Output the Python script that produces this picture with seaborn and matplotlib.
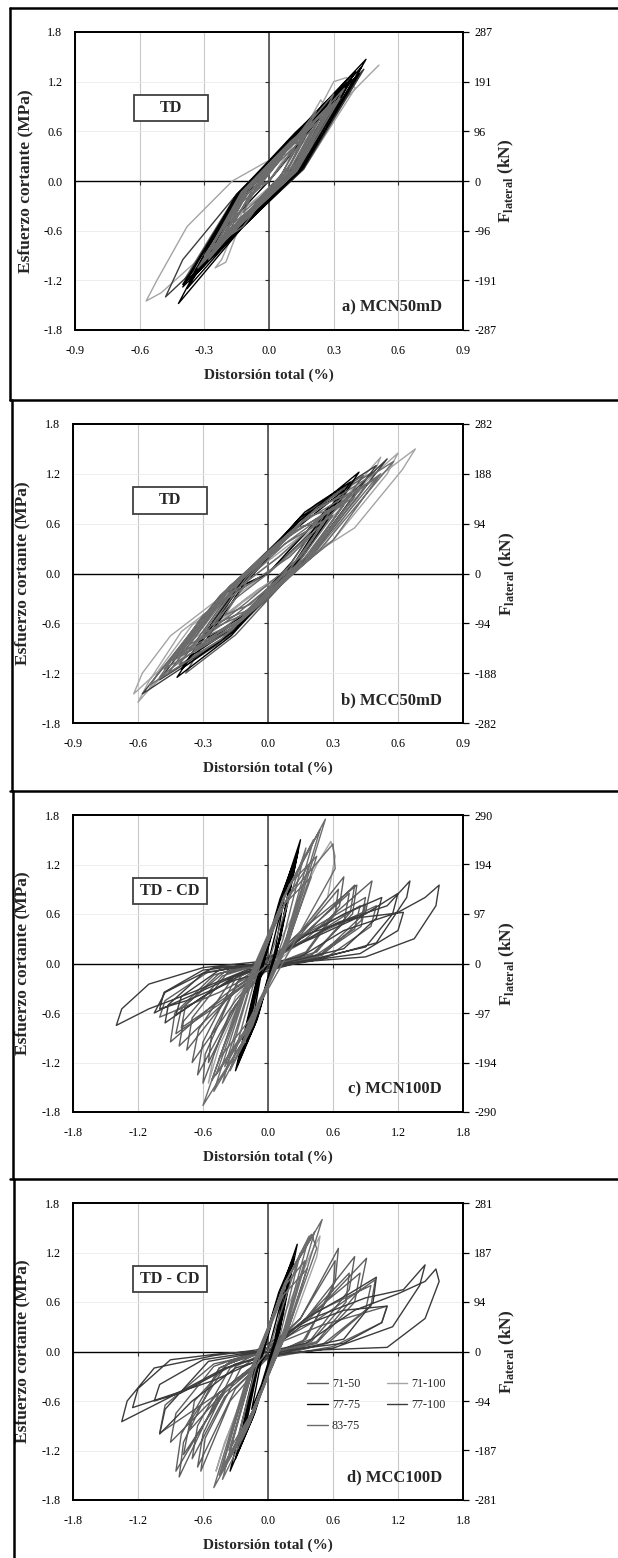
import matplotlib
matplotlib.use("Agg")
import matplotlib.pyplot as plt
from matplotlib.lines import Line2D
from matplotlib.patches import Rectangle
from matplotlib.ticker import FormatStrFormatter
import seaborn as sns

# ---------------- data (drift %, shear stress MPa), loop vertices ----------------
SERIES = ['71-50', '71-100', '77-75', '77-100', '83-75']

# a) MCN50mD
A_7775_X = [0.00,
            0.24, 0.10, -0.08, -0.24, -0.10, 0.08,
            0.31, 0.13, -0.10, -0.30, -0.13, 0.10,
            0.36, 0.14, -0.11, -0.34, -0.14, 0.11,
            0.40, 0.15, -0.12, -0.40, -0.15, 0.12,
            0.45, 0.16, -0.13, -0.42, -0.16, 0.12,
            0.38, 0.14, -0.12, -0.37, -0.14, 0.11,
            0.42, 0.15, -0.12, -0.40, -0.15, 0.12,
            0.34, 0.13, -0.11, -0.36, -0.14, 0.05,
            0.43, 0.20, -0.15, -0.38, -0.20, 0.00]
A_7775_Y = [0.00,
            0.78, 0.12, -0.40, -0.80, -0.14, 0.42,
            1.02, 0.14, -0.48, -1.00, -0.16, 0.50,
            1.18, 0.14, -0.52, -1.12, -0.18, 0.54,
            1.32, 0.15, -0.55, -1.28, -0.20, 0.56,
            1.47, 0.16, -0.58, -1.48, -0.20, 0.58,
            1.22, 0.12, -0.50, -1.22, -0.16, 0.52,
            1.30, 0.14, -0.54, -1.25, -0.18, 0.55,
            1.10, 0.12, -0.50, -1.18, -0.18, 0.30,
            1.38, 0.40, -0.62, -1.30, -0.55, 0.00]
A_7150_X = [0.00,
            0.18, 0.08, -0.07, -0.18, -0.08, 0.06,
            0.27, 0.11, -0.09, -0.27, -0.11, 0.09,
            0.33, 0.13, -0.10, -0.33, -0.13, 0.10,
            0.42, 0.15, -0.12, -0.39, -0.15, 0.11,
            0.40, 0.15, -0.11, -0.36, -0.14, 0.12,
            0.30, 0.12, -0.10, -0.31, -0.12, 0.00]
A_7150_Y = [0.00,
            0.58, 0.10, -0.32, -0.58, -0.12, 0.34,
            0.86, 0.12, -0.42, -0.88, -0.14, 0.44,
            1.08, 0.12, -0.48, -1.06, -0.16, 0.50,
            1.30, 0.12, -0.54, -1.18, -0.16, 0.54,
            1.25, 0.14, -0.52, -1.15, -0.18, 0.52,
            0.98, 0.12, -0.46, -1.00, -0.14, 0.00]
A_8375_X = [0.00,
            0.12, 0.06, -0.05, -0.12, -0.06, 0.05,
            0.20, 0.09, -0.07, -0.20, -0.09, 0.07,
            0.26, 0.11, -0.09, -0.25, -0.11, 0.09,
            0.30, 0.12, -0.10, -0.29, -0.12, 0.10,
            0.33, 0.13, -0.11, -0.31, -0.13, 0.10,
            0.28, 0.12, -0.10, -0.28, -0.12, 0.09,
            0.22, 0.10, -0.08, -0.22, -0.10, 0.08,
            0.25, 0.11, -0.09, -0.26, -0.11, 0.09,
            0.16, 0.07, -0.06, -0.16, -0.07, 0.00,
            0.18, 0.05, -0.12, -0.24, -0.05, 0.12,
            0.30, 0.18, -0.02, -0.28, -0.16, 0.02,
            0.22, 0.10, -0.10, -0.30, -0.14, 0.06,
            0.35, 0.15, -0.12, -0.33, -0.15, 0.00]
A_8375_Y = [0.00,
            0.40, 0.08, -0.22, -0.38, -0.08, 0.24,
            0.62, 0.10, -0.32, -0.62, -0.10, 0.34,
            0.80, 0.10, -0.40, -0.78, -0.12, 0.42,
            0.94, 0.10, -0.44, -0.92, -0.12, 0.46,
            1.00, 0.12, -0.46, -0.98, -0.14, 0.48,
            0.88, 0.12, -0.42, -0.86, -0.12, 0.44,
            0.70, 0.10, -0.36, -0.70, -0.10, 0.38,
            0.82, 0.12, -0.40, -0.84, -0.12, 0.42,
            0.50, 0.08, -0.28, -0.50, -0.08, 0.00,
            0.62, 0.05, -0.55, -0.76, -0.05, 0.50,
            1.05, 0.35, -0.15, -0.95, -0.45, 0.15,
            0.85, 0.20, -0.38, -0.90, -0.28, 0.30,
            1.12, 0.25, -0.50, -1.05, -0.30, 0.00]
A_71100_X = [0.00, 0.18, 0.24, 0.26, 0.10, -0.12, -0.22, -0.25, -0.20, -0.08, 0.00,
             0.10, 0.22, 0.30, 0.36, 0.40, 0.16, -0.10, -0.35, -0.50, -0.57,
             -0.52, -0.38, -0.17, 0.00, 0.12, 0.30, 0.51]
A_71100_Y = [0.00, 0.70, 0.98, 0.90, 0.15, -0.35, -0.95, -1.05, -0.98, -0.15, 0.00,
             0.30, 0.80, 1.20, 1.25, 1.12, 0.14, -0.30, -1.00, -1.35, -1.45,
             -1.20, -0.55, 0.00, 0.25, 0.36, 0.85, 1.40]
A_77100_X = [0.00,
             0.28, 0.12, -0.10, -0.30, -0.12, 0.10,
             0.37, 0.14, -0.12, -0.48, -0.40, -0.15, 0.11,
             0.42, 0.15, -0.12, -0.38, -0.15, 0.12,
             0.44, 0.16, -0.12, -0.33, -0.13, 0.00]
A_77100_Y = [0.00,
             0.92, 0.12, -0.44, -1.00, -0.14, 0.46,
             1.18, 0.12, -0.52, -1.40, -0.95, -0.16, 0.52,
             1.28, 0.14, -0.54, -1.20, -0.16, 0.54,
             1.35, 0.14, -0.54, -1.10, -0.14, 0.00]

# b) MCC50mD
B_8375_X = [0.00,
            0.20, 0.08, -0.08, -0.20, -0.08, 0.08,
            0.30, 0.12, -0.12, -0.30, -0.12, 0.12,
            0.40, 0.16, -0.16, -0.40, -0.16, 0.16,
            0.50, 0.20, -0.19, -0.48, -0.19, 0.20,
            0.58, 0.23, -0.22, -0.55, -0.22, 0.23,
            0.45, 0.18, -0.18, -0.44, -0.18, 0.18,
            0.35, 0.14, -0.14, -0.36, -0.14, 0.14,
            0.26, 0.10, -0.10, -0.26, -0.10, 0.10,
            0.42, 0.17, -0.17, -0.42, -0.17, 0.10,
            0.52, 0.30, -0.10, -0.50, -0.30, 0.10,
            0.38, 0.20, -0.15, -0.45, -0.25, 0.05,
            0.30, 0.15, -0.10, -0.32, -0.15, 0.00]
B_8375_Y = [0.00,
            0.48, 0.02, -0.37, -0.50, -0.03, 0.36,
            0.70, 0.06, -0.50, -0.72, -0.07, 0.50,
            0.92, 0.12, -0.62, -0.95, -0.13, 0.62,
            1.15, 0.20, -0.72, -1.15, -0.20, 0.72,
            1.35, 0.26, -0.80, -1.35, -0.26, 0.80,
            1.05, 0.16, -0.68, -1.05, -0.16, 0.68,
            0.82, 0.09, -0.58, -0.85, -0.10, 0.56,
            0.62, 0.05, -0.45, -0.62, -0.05, 0.45,
            1.00, 0.14, -0.66, -1.00, -0.14, 0.40,
            1.20, 0.40, -0.45, -1.25, -0.50, 0.20,
            0.95, 0.25, -0.50, -1.05, -0.40, 0.20,
            0.80, 0.20, -0.35, -0.80, -0.30, 0.00]
B_71100_X = [0.00, 0.25, 0.45, 0.60, 0.55, 0.30, -0.10, -0.40, -0.60, -0.55, -0.40, 0.05,
             0.40, 0.68, 0.62, 0.40, -0.05, -0.35, -0.62, -0.58, -0.45, 0.00,
             0.30, 0.52, 0.48, 0.25, -0.12, -0.35, -0.55, -0.50, -0.35, 0.00]
B_71100_Y = [0.00, 0.55, 1.10, 1.45, 1.20, 0.40, -0.30, -0.95, -1.55, -1.30, -0.70, 0.20,
             0.95, 1.50, 1.25, 0.55, -0.20, -0.80, -1.45, -1.20, -0.75, 0.15,
             0.75, 1.40, 1.15, 0.30, -0.35, -0.90, -1.40, -1.15, -0.62, 0.00]
B_7775_X = [0.00,
            0.28, 0.11, -0.11, -0.28, -0.11, 0.11,
            0.35, 0.14, -0.14, -0.36, -0.14, 0.14,
            0.42, 0.17, -0.17, -0.42, -0.17, 0.17,
            0.38, 0.15, -0.16, -0.40, -0.16, 0.15,
            0.32, 0.13, -0.13, -0.33, -0.13, 0.00]
B_7775_Y = [0.00,
            0.80, 0.14, -0.50, -0.78, -0.13, 0.50,
            1.00, 0.18, -0.62, -1.00, -0.18, 0.62,
            1.22, 0.24, -0.75, -1.25, -0.25, 0.74,
            1.10, 0.20, -0.70, -1.15, -0.22, 0.68,
            0.92, 0.16, -0.56, -0.90, -0.16, 0.00]
B_7150_X = [0.00,
            0.32, 0.13, -0.13, -0.33, -0.13, 0.13,
            0.40, 0.16, -0.16, -0.41, -0.16, 0.16,
            0.47, 0.19, -0.18, -0.46, -0.18, 0.19,
            0.44, 0.18, -0.15, -0.38, -0.15, 0.00]
B_7150_Y = [0.00,
            0.90, 0.14, -0.60, -0.92, -0.14, 0.60,
            1.12, 0.20, -0.70, -1.10, -0.18, 0.70,
            1.20, 0.20, -0.76, -1.20, -0.20, 0.76,
            1.18, 0.20, -0.74, -1.20, -0.22, 0.00]
B_77100_X = [0.00, 0.55, 0.22, -0.23, -0.58, -0.23, 0.22, 0.50, 0.20, -0.20, -0.50, -0.20, 0.00]
B_77100_Y = [0.00, 1.38, 0.28, -0.85, -1.45, -0.30, 0.83, 1.30, 0.25, -0.78, -1.28, -0.24, 0.00]

# c) MCN100D
C_7775_X = [0.00,
            0.15, 0.06, -0.05, -0.14, -0.06, 0.05,
            0.22, 0.09, -0.08, -0.20, -0.08, 0.08,
            0.28, 0.11, -0.10, -0.26, -0.10, 0.10,
            0.30, 0.12, -0.12, -0.30, -0.12, 0.11,
            0.26, 0.10, -0.11, -0.28, -0.11, 0.10,
            0.24, 0.10, -0.09, -0.24, -0.09, 0.00]
C_7775_Y = [0.00,
            0.80, 0.12, -0.40, -0.70, -0.10, 0.42,
            1.10, 0.20, -0.55, -0.95, -0.18, 0.58,
            1.38, 0.30, -0.68, -1.15, -0.26, 0.70,
            1.50, 0.34, -0.74, -1.30, -0.28, 0.78,
            1.30, 0.28, -0.70, -1.22, -0.26, 0.66,
            1.20, 0.24, -0.62, -1.08, -0.22, 0.00]
C_8375_X = [0.00,
            0.35, 0.14, -0.14, -0.35, -0.14, 0.14,
            0.42, 0.17, -0.17, -0.42, -0.17, 0.17,
            0.48, 0.19, -0.20, -0.50, -0.20, 0.19,
            0.53, 0.21, -0.24, -0.60, -0.24, 0.21,
            0.45, 0.18, -0.19, -0.48, -0.19, 0.18,
            0.60, 0.62, 0.22, -0.21, -0.52, -0.21, 0.20,
            0.38, 0.15, -0.16, -0.40, -0.16, 0.15,
            0.40, 0.16, -0.18, -0.45, -0.18, 0.00]
C_8375_Y = [0.00,
            1.40, 0.30, -0.75, -1.30, -0.28, 0.80,
            1.50, 0.32, -0.82, -1.45, -0.30, 0.86,
            1.62, 0.34, -0.88, -1.55, -0.32, 0.92,
            1.75, 0.38, -0.96, -1.72, -0.36, 0.98,
            1.30, 0.22, -0.80, -1.35, -0.26, 0.80,
            1.45, 1.15, 0.20, -0.80, -1.42, -0.28, 0.85,
            1.20, 0.22, -0.72, -1.25, -0.24, 0.72,
            1.05, 0.18, -0.70, -1.15, -0.22, 0.00]
C_77100_X = [0.00,
             0.30, 0.70, 1.20, 1.45, 1.58, 1.55, 1.35, 0.90, 0.30, -0.20, -0.70, -1.10, -1.40,
             -1.35, -1.10, -0.60, -0.10,
             0.40, 0.90, 1.20, 1.15, 0.90, 0.40, -0.20, -0.60, -0.95, -0.92, -0.60, -0.10,
             0.30, 0.65, 1.10, 1.31, 1.28, 1.00, 0.40, -0.25, -0.90, -1.05, -0.95, -0.50, 0.00,
             0.30, 0.70, 1.05, 1.00, 0.70, 0.20, -0.30, -0.85, -0.80, -0.45, 0.00,
             0.35, 0.80, 1.25, 1.20, 0.85, 0.30, -0.30, -0.75, -1.00, -0.96, -0.60, -0.05]
C_77100_Y = [0.00,
             0.08, 0.40, 0.62, 0.80, 0.95, 0.70, 0.30, 0.08, 0.02, -0.08, -0.35, -0.55, -0.75,
             -0.55, -0.25, -0.05, 0.02,
             0.30, 0.60, 0.85, 0.60, 0.20, 0.05, -0.10, -0.40, -0.72, -0.50, -0.12, 0.00,
             0.25, 0.50, 0.70, 1.00, 0.80, 0.25, 0.03, -0.12, -0.50, -0.60, -0.35, -0.05, 0.00,
             0.30, 0.60, 0.80, 0.55, 0.18, 0.02, -0.15, -0.62, -0.40, -0.08, 0.00,
             0.35, 0.55, 0.62, 0.40, 0.12, 0.02, -0.20, -0.45, -0.55, -0.35, -0.08, 0.00]
C_7150_X = [0.00,
            0.30, 0.80, 0.76, 0.45, 0.00, -0.30, -0.75, -0.70, -0.38, 0.00,
            0.35, 0.96, 0.90, 0.50, -0.05, -0.40, -0.90, -0.86, -0.50, 0.00,
            0.28, 0.70, 0.66, 0.35, -0.05, -0.30, -0.70, -0.64, -0.32, 0.05,
            0.40, 0.85, 0.80, 0.42, -0.05, -0.35, -0.60, -0.58, -0.28, 0.02,
            0.35, 0.75, 0.70, 0.40, 0.00, -0.35, -0.82, -0.78, -0.42, 0.00,
            0.45, 1.00, 0.95, 0.55, 0.00, -0.45, -1.00, -0.95, -0.55, 0.00,
            0.40, 0.90, 0.86, 0.50, -0.02, -0.40, -0.85, -0.80, -0.45, 0.00,
            0.30, 0.65, 0.62, 0.35, 0.00, -0.25, -0.55, -0.52, -0.25, 0.00,
            0.35, 0.82, 0.78, 0.40, 0.00, -0.30, -0.65, -0.60, -0.30, 0.00,
            0.40, 0.90, 0.86, 0.45, 0.00, -0.40, -0.80, -0.76, -0.40, 0.00]
C_7150_Y = [0.00,
            0.30, 0.95, 0.62, 0.14, -0.03, -0.30, -1.05, -0.66, -0.12, 0.04,
            0.30, 1.00, 0.62, 0.12, -0.06, -0.38, -0.95, -0.60, -0.14, 0.04,
            0.35, 1.05, 0.70, 0.14, -0.06, -0.45, -1.20, -0.80, -0.16, 0.08,
            0.32, 0.70, 0.42, 0.08, -0.08, -0.60, -1.45, -1.10, -0.22, 0.04,
            0.38, 0.85, 0.50, 0.10, -0.05, -0.40, -1.00, -0.70, -0.15, 0.02,
            0.35, 0.70, 0.45, 0.08, -0.04, -0.35, -0.65, -0.45, -0.10, 0.00,
            0.42, 0.80, 0.52, 0.10, -0.05, -0.45, -0.85, -0.55, -0.12, 0.00,
            0.35, 0.90, 0.60, 0.12, -0.04, -0.40, -1.20, -0.85, -0.15, 0.02,
            0.45, 0.95, 0.60, 0.10, -0.05, -0.50, -1.35, -0.95, -0.18, 0.00,
            0.40, 0.72, 0.45, 0.08, -0.05, -0.42, -0.78, -0.50, -0.10, 0.00]
C_71100_X = [0.00, 0.20, 0.45, 0.58, 0.62, 0.55, 0.20, -0.20, -0.45, -0.55, -0.50, -0.30, 0.00]
C_71100_Y = [0.00, 0.50, 1.20, 1.48, 1.30, 0.80, 0.15, -0.30, -1.00, -1.45, -1.10, -0.40, 0.00]

# d) MCC100D
D_7775_X = [0.00,
            0.15, 0.06, -0.06, -0.15, -0.06, 0.05,
            0.22, 0.09, -0.09, -0.22, -0.09, 0.08,
            0.27, 0.11, -0.12, -0.30, -0.12, 0.10,
            0.24, 0.10, -0.14, -0.35, -0.13, 0.09,
            0.20, 0.08, -0.10, -0.26, -0.10, 0.00]
D_7775_Y = [0.00,
            0.75, 0.12, -0.40, -0.70, -0.10, 0.42,
            1.05, 0.20, -0.58, -1.00, -0.18, 0.58,
            1.30, 0.26, -0.74, -1.30, -0.26, 0.72,
            1.15, 0.22, -0.80, -1.45, -0.26, 0.64,
            0.98, 0.18, -0.64, -1.15, -0.20, 0.00]
D_8375_X = [0.00,
            0.30, 0.12, -0.12, -0.30, -0.12, 0.12,
            0.38, 0.15, -0.15, -0.38, -0.15, 0.15,
            0.43, 0.17, -0.17, -0.42, -0.17, 0.17,
            0.50, 0.20, -0.20, -0.50, -0.20, 0.20,
            0.40, 0.45, 0.17, -0.18, -0.45, -0.18, 0.17,
            0.34, 0.14, -0.14, -0.36, -0.14, 0.14,
            0.36, 0.15, -0.17, -0.42, -0.17, 0.00]
D_8375_Y = [0.00,
            1.20, 0.24, -0.70, -1.15, -0.24, 0.72,
            1.40, 0.28, -0.80, -1.35, -0.26, 0.82,
            1.45, 0.28, -0.88, -1.55, -0.30, 0.86,
            1.60, 0.32, -0.94, -1.65, -0.34, 0.94,
            1.42, 1.25, 0.22, -0.84, -1.50, -0.30, 0.82,
            1.10, 0.20, -0.72, -1.20, -0.22, 0.68,
            1.00, 0.16, -0.80, -1.40, -0.26, 0.00]
D_77100_X = [0.00,
             0.35, 0.80, 1.20, 1.45, 1.55, 1.58, 1.45, 1.10, 0.50, 0.00, -0.40, -0.90, -1.20, -1.35,
             -1.30, -1.05, -0.50, -0.10,
             0.40, 0.90, 1.25, 1.45, 1.40, 1.15, 0.60, 0.00, -0.50, -0.95, -1.25, -1.20, -0.90, -0.40, 0.00,
             0.30, 0.70, 1.10, 1.05, 0.70, 0.20, -0.30, -0.80, -1.05, -1.00, -0.60, -0.10, 0.00,
             0.35, 0.75, 1.00, 0.97, 0.70, 0.25, -0.30, -0.70, -1.00, -0.95, -0.55, -0.05]
D_77100_Y = [0.00,
             0.10, 0.50, 0.70, 0.85, 1.00, 0.85, 0.40, 0.05, 0.02, -0.05, -0.20, -0.55, -0.75, -0.85,
             -0.60, -0.20, -0.05, 0.02,
             0.40, 0.65, 0.75, 1.05, 0.80, 0.30, 0.04, -0.05, -0.35, -0.55, -0.68, -0.45, -0.10, -0.02, 0.00,
             0.30, 0.50, 0.55, 0.35, 0.10, 0.02, -0.15, -0.50, -0.60, -0.40, -0.10, 0.00, 0.00,
             0.40, 0.70, 0.90, 0.60, 0.15, 0.02, -0.20, -0.60, -1.00, -0.70, -0.12, 0.00]
D_7150_X = [0.00,
            0.35, 0.80, 0.75, 0.40, 0.00, -0.40, -0.85, -0.80, -0.45, 0.00,
            0.40, 0.91, 0.85, 0.45, -0.05, -0.45, -0.82, -0.78, -0.45, 0.00,
            0.45, 0.99, 0.95, 0.55, 0.00, -0.45, -0.90, -0.85, -0.50, 0.00,
            0.50, 1.10, 1.05, 0.60, 0.00, -0.40, -0.70, -0.65, -0.35, 0.00,
            0.30, 0.65, 0.62, 0.35, 0.00, -0.35, -0.62, -0.58, -0.25, 0.00,
            0.35, 0.75, 0.72, 0.40, -0.02, -0.45, -1.00, -0.95, -0.50, 0.00,
            0.30, 0.62, 0.60, 0.32, 0.00, -0.30, -0.65, -0.60, -0.30, 0.00,
            0.35, 0.85, 0.80, 0.45, 0.00, -0.40, -0.78, -0.72, -0.38, 0.00,
            0.40, 0.95, 0.90, 0.50, 0.00, -0.35, -0.72, -0.68, -0.35, 0.00]
D_7150_Y = [0.00,
            0.40, 1.15, 0.75, 0.15, -0.05, -0.45, -1.45, -1.00, -0.20, 0.05,
            0.42, 1.13, 0.75, 0.12, -0.08, -0.50, -1.52, -1.10, -0.20, 0.05,
            0.38, 0.87, 0.55, 0.10, -0.08, -0.50, -1.10, -0.75, -0.18, 0.05,
            0.32, 0.55, 0.35, 0.06, -0.08, -0.55, -1.30, -0.90, -0.20, 0.05,
            0.40, 1.25, 0.85, 0.15, -0.06, -0.60, -1.45, -1.05, -0.20, 0.04,
            0.40, 0.95, 0.60, 0.12, -0.06, -0.50, -0.99, -0.65, -0.15, 0.00,
            0.40, 1.10, 0.75, 0.12, -0.05, -0.45, -1.40, -1.00, -0.18, 0.00,
            0.40, 0.95, 0.60, 0.10, -0.05, -0.50, -1.25, -0.85, -0.15, 0.00,
            0.45, 0.80, 0.50, 0.08, -0.05, -0.40, -0.95, -0.60, -0.12, 0.00]
D_71100_X = [0.00, 0.20, 0.40, 0.48, 0.45, 0.20, -0.15, -0.40, -0.48, -0.42, -0.20, 0.00]
D_71100_Y = [0.00, 0.60, 1.20, 1.40, 1.15, 0.25, -0.30, -1.10, -1.45, -1.20, -0.40, 0.00]

# axis ticks
Y_TICKS = [-1.8, -1.2, -0.6, 0.0, 0.6, 1.2, 1.8]
X_TICKS_SMALL = [-0.9, -0.6, -0.3, 0.0, 0.3, 0.6, 0.9]
X_TICKS_BIG = [-1.8, -1.2, -0.6, 0.0, 0.6, 1.2, 1.8]
KN_A = [-287, -191, -96, 0, 96, 191, 287]
KN_B = [-282, -188, -94, 0, 94, 188, 282]
KN_C = [-290, -194, -97, 0, 97, 194, 290]
KN_D = [-281, -187, -94, 0, 94, 187, 281]

COLORS = {'71-50': '#5e5e5e', '71-100': '#a4a4a4', '77-75': '#000000',
          '77-100': '#3c3c3c', '83-75': '#6c6c6c'}
DRAW_ORDER = ['71-100', '71-50', '77-100', '77-75', '83-75']

PANELS = [
    dict(curves={'71-50': (A_7150_X, A_7150_Y), '71-100': (A_71100_X, A_71100_Y),
                 '77-75': (A_7775_X, A_7775_Y), '77-100': (A_77100_X, A_77100_Y),
                 '83-75': (A_8375_X, A_8375_Y)},
         xticks=X_TICKS_SMALL, kn=KN_A, tag='TD', name='a) MCN50mD', px=(75, 32, 330)),
    dict(curves={'71-50': (B_7150_X, B_7150_Y), '71-100': (B_71100_X, B_71100_Y),
                 '77-75': (B_7775_X, B_7775_Y), '77-100': (B_77100_X, B_77100_Y),
                 '83-75': (B_8375_X, B_8375_Y)},
         xticks=X_TICKS_SMALL, kn=KN_B, tag='TD', name='b) MCC50mD', px=(73, 424, 723)),
    dict(curves={'71-50': (C_7150_X, C_7150_Y), '71-100': (C_71100_X, C_71100_Y),
                 '77-75': (C_7775_X, C_7775_Y), '77-100': (C_77100_X, C_77100_Y),
                 '83-75': (C_8375_X, C_8375_Y)},
         xticks=X_TICKS_BIG, kn=KN_C, tag='TD - CD', name='c) MCN100D', px=(73, 815, 1112)),
    dict(curves={'71-50': (D_7150_X, D_7150_Y), '71-100': (D_71100_X, D_71100_Y),
                 '77-75': (D_7775_X, D_7775_Y), '77-100': (D_77100_X, D_77100_Y),
                 '83-75': (D_8375_X, D_8375_Y)},
         xticks=X_TICKS_BIG, kn=KN_D, tag='TD - CD', name='d) MCC100D', px=(73, 1203, 1500)),
]

W, H = 618, 1558
RIGHT = 463

sns.set_theme(style='ticks')
plt.rcParams['font.family'] = ['Liberation Serif', 'DejaVu Serif']
plt.rcParams['axes.unicode_minus'] = False
plt.rcParams['mathtext.fontset'] = 'custom'
plt.rcParams['mathtext.rm'] = 'Liberation Serif'
plt.rcParams['mathtext.bf'] = 'Liberation Serif:bold'

fig = plt.figure(figsize=(W / 100, H / 100), dpi=100)

# outer frames of the four sub-figures
for y in [8, 400, 791, 1179]:
    fig.add_artist(Line2D([10 / W, 1], [1 - y / H, 1 - y / H], transform=fig.transFigure,
                          color='black', lw=1.8))
for x, y0, y1 in [(10, 8, 400), (12, 400, 791), (13, 791, 1179), (14, 1179, 1558)]:
    fig.add_artist(Line2D([x / W, x / W], [1 - y0 / H, 1 - y1 / H], transform=fig.transFigure,
                          color='black', lw=1.8))

for i, p in enumerate(PANELS):
    left, top, bottom = p['px']
    rect = [left / W, 1 - bottom / H, (RIGHT - left) / W, (bottom - top) / H]
    ax = fig.add_axes(rect)
    xmax = p['xticks'][-1]

    ax.grid(axis='x', color='#c8c8c8', lw=0.8)
    ax.grid(axis='y', color='#ebebeb', lw=0.6)
    ax.set_axisbelow(True)
    ax.axhline(0, color='black', lw=1.0, zorder=1.5)
    ax.axvline(0, color='#555555', lw=1.3, zorder=1.5)

    for key in DRAW_ORDER:
        xs, ys = p['curves'][key]
        sns.lineplot(x=xs, y=ys, sort=False, estimator=None, color=COLORS[key],
                     linewidth=1.0, ax=ax, label=key if i == 3 else None)

    ax.set_xlim(-xmax, xmax)
    ax.set_ylim(-1.8, 1.8)
    ax.set_xticks(p['xticks'])
    ax.set_yticks(Y_TICKS)
    ax.xaxis.set_major_formatter(FormatStrFormatter('%.1f'))
    ax.yaxis.set_major_formatter(FormatStrFormatter('%.1f'))
    ax.tick_params(axis='both', length=0, labelsize=8.7, colors='black')
    ax.tick_params(axis='x', pad=11)
    ax.tick_params(axis='y', pad=9)
    for s in ax.spines.values():
        s.set_visible(True)
        s.set_color('black')
        s.set_linewidth(1.3)

    ax.set_xlabel('Distorsión total (%)', fontsize=11, fontweight='bold')
    ax.set_ylabel('Esfuerzo cortante (MPa)', fontsize=12.5, fontweight='bold')
    ax.xaxis.set_label_coords(0.5, -0.128)
    ax.yaxis.set_label_coords(-0.108, 0.5)

    # label box and specimen name
    ax.add_patch(Rectangle((0.153, 0.70), 0.19, 0.089, transform=ax.transAxes,
                           facecolor='white', edgecolor='#404040', lw=1.3, zorder=6))
    ax.text(0.248, 0.7445, p['tag'], transform=ax.transAxes, ha='center', va='center',
            fontsize=11.7, fontweight='bold', zorder=7)
    ax.text(0.946, 0.075, p['name'], transform=ax.transAxes, ha='right', va='center',
            fontsize=12, fontweight='bold', zorder=7)

    # tick marks on the axes crossing at zero
    ov = fig.add_axes(rect, sharex=ax, sharey=ax)
    ov.patch.set_visible(False)
    ov.grid(False)
    ov.spines['top'].set_visible(False)
    ov.spines['right'].set_visible(False)
    ov.spines['left'].set_position(('data', 0))
    ov.spines['bottom'].set_position(('data', 0))
    ov.spines['left'].set_color('none')
    ov.spines['bottom'].set_color('none')
    ov.tick_params(labelleft=False, labelbottom=False, left=True, bottom=True,
                   length=3, width=0.8, direction='out', color='#333333')

    # lateral force axis
    tw = ax.twinx()
    tw.set_ylim(p['kn'][0], p['kn'][-1])
    tw.set_yticks(p['kn'])
    tw.yaxis.set_major_formatter(FormatStrFormatter('%d'))
    tw.tick_params(axis='y', right=True, length=4, width=0.9, direction='out',
                   labelsize=8.7, pad=4, colors='black')
    tw.grid(False)
    for s in tw.spines.values():
        s.set_color('black')
        s.set_linewidth(1.3)
    tw.set_ylabel(r'$\mathbf{F}_{\mathbf{lateral}}$ (kN)', fontsize=12.5, fontweight='bold')
    tw.yaxis.set_label_coords(1.088, 0.5)

    if i == 3:
        handles, labels = ax.get_legend_handles_labels()
        hmap = dict(zip(labels, handles))
        order = ['71-50', '77-75', '83-75', '71-100', '77-100']
        ax.legend([hmap[k] for k in order], order, ncol=2, frameon=False,
                  loc='upper left', bbox_to_anchor=(0.60, 0.41), borderaxespad=0, borderpad=0,
                  fontsize=8.7, handlelength=1.7, handletextpad=0.35, columnspacing=2.2,
                  labelspacing=0.75)

fig.savefig('out.png', dpi=100)
